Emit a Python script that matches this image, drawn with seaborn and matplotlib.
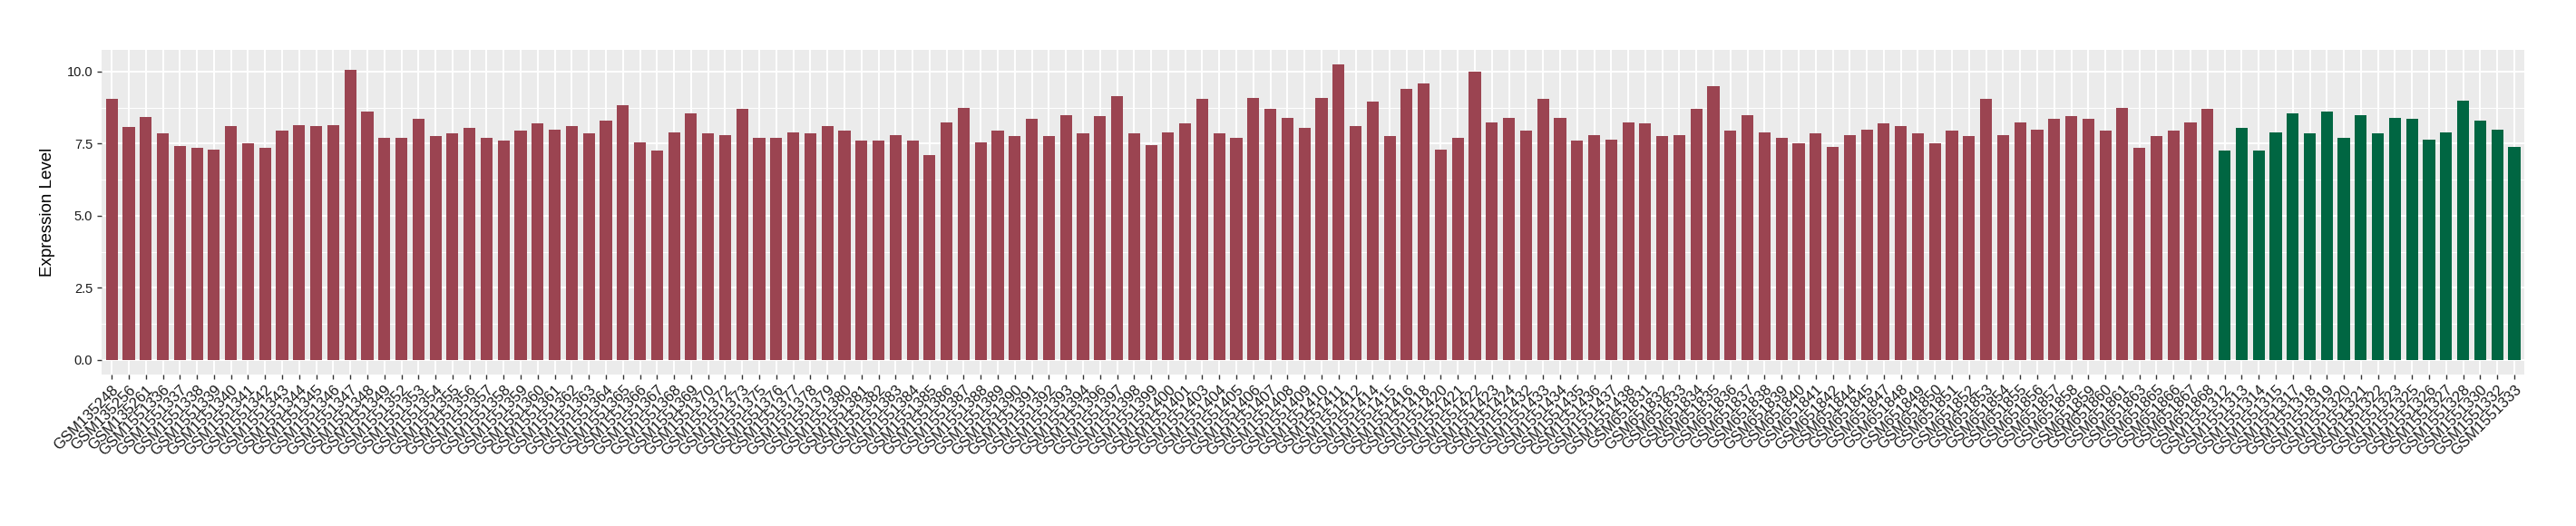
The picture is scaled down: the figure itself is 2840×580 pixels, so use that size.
import pandas as pd
import matplotlib
matplotlib.use("Agg")
import matplotlib.pyplot as plt
import seaborn as sns
from matplotlib.ticker import MultipleLocator

# samples in the first group (red bars)
group1_samples = [
    "GSM135248", "GSM135256", "GSM135261", "GSM1551336", "GSM1551337", "GSM1551338",
    "GSM1551339", "GSM1551340", "GSM1551341", "GSM1551342", "GSM1551343", "GSM1551344",
    "GSM1551345", "GSM1551346", "GSM1551347", "GSM1551348", "GSM1551349", "GSM1551352",
    "GSM1551353", "GSM1551354", "GSM1551355", "GSM1551356", "GSM1551357", "GSM1551358",
    "GSM1551359", "GSM1551360", "GSM1551361", "GSM1551362", "GSM1551363", "GSM1551364",
    "GSM1551365", "GSM1551366", "GSM1551367", "GSM1551368", "GSM1551369", "GSM1551370",
    "GSM1551372", "GSM1551373", "GSM1551375", "GSM1551376", "GSM1551377", "GSM1551378",
    "GSM1551379", "GSM1551380", "GSM1551381", "GSM1551382", "GSM1551383", "GSM1551384",
    "GSM1551385", "GSM1551386", "GSM1551387", "GSM1551388", "GSM1551389", "GSM1551390",
    "GSM1551391", "GSM1551392", "GSM1551393", "GSM1551394", "GSM1551396", "GSM1551397",
    "GSM1551398", "GSM1551399", "GSM1551400", "GSM1551401", "GSM1551403", "GSM1551404",
    "GSM1551405", "GSM1551406", "GSM1551407", "GSM1551408", "GSM1551409", "GSM1551410",
    "GSM1551411", "GSM1551412", "GSM1551414", "GSM1551415", "GSM1551416", "GSM1551418",
    "GSM1551420", "GSM1551421", "GSM1551422", "GSM1551423", "GSM1551424", "GSM1551432",
    "GSM1551433", "GSM1551434", "GSM1551435", "GSM1551436", "GSM1551437", "GSM1551438",
    "GSM651831", "GSM651832", "GSM651833", "GSM651834", "GSM651835", "GSM651836",
    "GSM651837", "GSM651838", "GSM651839", "GSM651840", "GSM651841", "GSM651842",
    "GSM651844", "GSM651845", "GSM651847", "GSM651848", "GSM651849", "GSM651850",
    "GSM651851", "GSM651852", "GSM651853", "GSM651854", "GSM651855", "GSM651856",
    "GSM651857", "GSM651858", "GSM651859", "GSM651860", "GSM651861", "GSM651863",
    "GSM651865", "GSM651866", "GSM651867", "GSM651868",
]
group1_values = [
    9.06, 8.08, 8.44, 7.86, 7.42, 7.37, 7.29, 8.10, 7.50, 7.35, 7.95, 8.15,
    8.10, 8.15, 10.05, 8.60, 7.70, 7.70, 8.35, 7.75, 7.85, 8.05, 7.70, 7.60,
    7.95, 8.20, 8.00, 8.10, 7.85, 8.30, 8.85, 7.55, 7.25, 7.90, 8.55, 7.85,
    7.80, 8.70, 7.70, 7.70, 7.90, 7.85, 8.10, 7.95, 7.60, 7.60, 7.80, 7.60,
    7.10, 8.25, 8.75, 7.55, 7.95, 7.75, 8.35, 7.75, 8.50, 7.85, 8.45, 9.15,
    7.85, 7.45, 7.90, 8.20, 9.05, 7.85, 7.70, 9.10, 8.70, 8.40, 8.05, 9.10,
    10.24, 8.10, 8.95, 7.75, 9.40, 9.60, 7.30, 7.70, 10.00, 8.25, 8.40, 7.95,
    9.05, 8.40, 7.60, 7.80, 7.65, 8.25, 8.20, 7.75, 7.80, 8.70, 9.50, 7.95,
    8.50, 7.90, 7.70, 7.50, 7.85, 7.40, 7.80, 8.00, 8.20, 8.10, 7.85, 7.50,
    7.95, 7.75, 9.05, 7.80, 8.25, 8.00, 8.35, 8.45, 8.35, 7.95, 8.75, 7.35,
    7.75, 7.95, 8.25, 8.70,
]

# samples in the second group (green bars)
group2_samples = [
    "GSM1551312", "GSM1551313", "GSM1551314", "GSM1551315", "GSM1551317", "GSM1551318",
    "GSM1551319", "GSM1551320", "GSM1551321", "GSM1551322", "GSM1551323", "GSM1551325",
    "GSM1551326", "GSM1551327", "GSM1551328", "GSM1551330", "GSM1551332", "GSM1551333",
]
group2_values = [
    7.25, 8.05, 7.25, 7.90, 8.55, 7.85, 8.60, 7.70, 8.50, 7.85, 8.40, 8.35,
    7.65, 7.90, 9.00, 8.30, 8.00, 7.40,
]

group_colors = {"group1": "#9b4451", "group2": "#006642"}

df = pd.DataFrame({
    "sample": group1_samples + group2_samples,
    "value": group1_values + group2_values,
    "group": ["group1"] * len(group1_samples) + ["group2"] * len(group2_samples),
})

plt.rcParams["font.family"] = ["Liberation Sans", "DejaVu Sans"]

fig = plt.figure(figsize=(28.4, 5.8), dpi=100)
ax = fig.add_axes([0.0394, 0.288, 0.9406, 0.617])
ax.set_facecolor("#EBEBEB")

sns.barplot(data=df, x="sample", y="value", hue="group", palette=group_colors,
            order=df["sample"], width=0.7, dodge=False, legend=False,
            saturation=1, ax=ax, zorder=3)

n = len(df)
ax.set_xlim(-0.6, n - 1 + 0.6)
ax.set_ylim(-0.512, 10.752)
ax.yaxis.set_major_locator(MultipleLocator(2.5))
ax.yaxis.set_minor_locator(MultipleLocator(1.25))
ax.yaxis.set_major_formatter(matplotlib.ticker.FormatStrFormatter("%.1f"))

ax.grid(True, which="major", color="white", linewidth=1.4, zorder=0)
ax.grid(True, which="minor", axis="y", color="white", linewidth=0.7, zorder=0)
ax.set_axisbelow(True)
for s in ax.spines.values():
    s.set_visible(False)

ax.tick_params(axis="both", which="major", length=3.5, width=1.0, color="#333333",
               labelcolor="#1a1a1a")
ax.tick_params(axis="y", labelsize=10.5)
ax.tick_params(axis="x", labelsize=12, pad=3)
ax.tick_params(axis="y", which="minor", length=0)
plt.setp(ax.get_xticklabels(), rotation=45, ha="right", va="top",
         rotation_mode="anchor")

ax.set_xlabel("")
ax.set_ylabel("Expression Level", fontsize=13.5, color="black", labelpad=9)

fig.savefig("out.png", dpi=100)
